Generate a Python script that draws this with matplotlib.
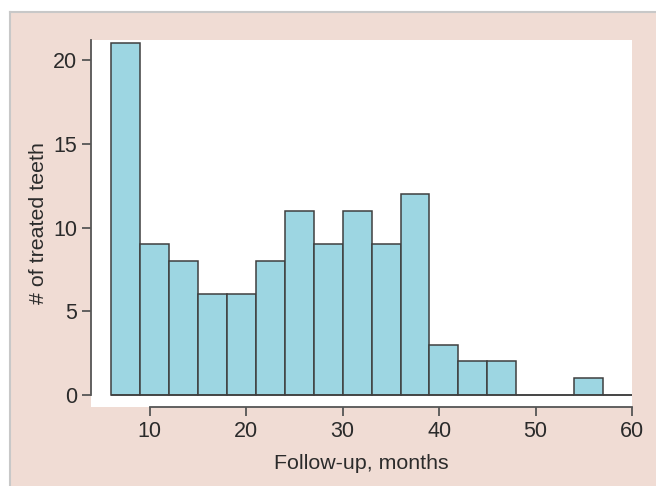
import matplotlib.pyplot as plt
from matplotlib.patches import Rectangle
import numpy as np

plt.rcParams['font.family'] = ['Liberation Sans', 'DejaVu Sans']

# histogram bins (months), width 3
bin_edges = [6, 9, 12, 15, 18, 21, 24, 27, 30, 33, 36, 39, 42, 45, 48, 51, 54, 57, 60]
counts = [21, 9, 8, 6, 6, 8, 11, 9, 11, 9, 12, 3, 2, 2, 0, 0, 1, 0]
x_ticks = [10, 20, 30, 40, 50, 60]
y_ticks = [0, 5, 10, 15, 20]

bar_color = '#9dd6e2'
edge_color = '#3f3f3f'
pink = '#f0dcd4'
text_color = '#2b2b2b'

fig = plt.figure(figsize=(6.56, 4.86), dpi=100)
fig.patch.set_facecolor('white')

# pink background panel with thin grey frame on left/top
bg = Rectangle((10 / 656, 0), 1 - 10 / 656, 1 - 12 / 486, transform=fig.transFigure,
               facecolor=pink, edgecolor='none', zorder=-10)
fig.add_artist(bg)
fig.add_artist(plt.Line2D([10 / 656, 10 / 656], [0, 1 - 12 / 486], transform=fig.transFigure,
                          color='#c8c8c8', lw=1.5, zorder=-9))
fig.add_artist(plt.Line2D([10 / 656, 1], [1 - 12 / 486, 1 - 12 / 486], transform=fig.transFigure,
                          color='#c8c8c8', lw=1.5, zorder=-9))

ax = fig.add_axes([91 / 656, 1 - 407 / 486, (632 - 91) / 656, (407 - 40) / 486])
ax.set_facecolor('white')

edges = np.array(bin_edges)
widths = np.diff(edges)
ax.bar(edges[:-1], counts, width=widths, align='edge', color=bar_color,
       edgecolor=edge_color, linewidth=1.1, zorder=2)
ax.hlines(0, edges[0], edges[-1], color=edge_color, lw=1.1, zorder=3)

ax.set_xlim(3.9, 60)
ax.set_ylim(-0.72, 21.2)

for s in ['top', 'right']:
    ax.spines[s].set_visible(False)
ax.spines['left'].set_bounds(0, 21.2)
ax.spines['bottom'].set_bounds(10, 60)
for s in ['left', 'bottom']:
    ax.spines[s].set_color('#555555')
    ax.spines[s].set_linewidth(1.3)

ax.set_xticks(x_ticks)
ax.set_yticks(y_ticks)
ax.tick_params(axis='both', direction='out', length=6.5, width=1.3, color='#555555',
               labelsize=15.5, labelcolor=text_color)
ax.tick_params(axis='x', pad=3.6)
ax.tick_params(axis='y', pad=3.6)

ax.set_xlabel('Follow-up, months', fontsize=15.4, color=text_color, labelpad=8.5)
ax.set_ylabel('# of treated teeth', fontsize=15.4, color=text_color, labelpad=3.5)

fig.savefig('out.png', dpi=100, facecolor=fig.get_facecolor())
